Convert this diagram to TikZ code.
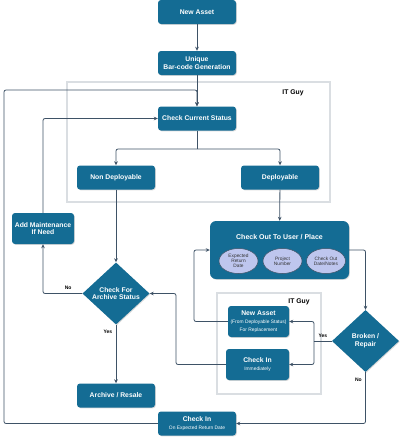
\documentclass[tikz,border=0pt]{standalone}
\usepackage{fontspec}
\setmainfont{Liberation Sans}
\usetikzlibrary{shapes.geometric,arrows.meta,shadows}
\definecolor{flowblue}{RGB}{20,108,148}
\definecolor{flowline}{RGB}{62,82,102}
\definecolor{flowoval}{RGB}{190,198,238}
\definecolor{flowframe}{RGB}{218,222,226}
\newcommand{\flownote}{\mdseries\fontsize{4.9}{5.6}\selectfont}

\tikzset{
  box/.style={fill=flowblue,rounded corners=3pt,text=white,align=center,
    font=\bfseries\fontsize{6.8}{7.8}\selectfont,minimum width=78pt,minimum height=24pt,inner sep=1pt,
    drop shadow={opacity=.3,shadow xshift=.8pt,shadow yshift=-.8pt}},
  boxtext/.style={text=white,font=\bfseries\fontsize{7}{8}\selectfont},
  decision/.style={diamond,fill=flowblue,text=white,align=center,
    font=\bfseries\fontsize{6.8}{7.8}\selectfont,minimum width=67pt,minimum height=62pt,inner sep=0pt,
    drop shadow={opacity=.3,shadow xshift=.8pt,shadow yshift=-.8pt}},
  oval/.style={ellipse,fill=flowoval,draw=flowline,line width=.5pt,text=black!80,align=center,
    font=\fontsize{4.8}{5.2}\selectfont,minimum width=39pt,minimum height=25pt,inner sep=0pt},
  frame/.style={draw=flowframe,line width=2pt},
  guy/.style={font=\bfseries\fontsize{6.8}{7.5}\selectfont},
  flow/.style={draw=flowline,line width=.8pt,rounded corners=2pt,-{Stealth[length=4pt,width=3.6pt]}},
  line/.style={draw=flowline,line width=.8pt,rounded corners=2pt},
  tag/.style={font=\bfseries\fontsize{5}{5.5}\selectfont,text=black}
}

\begin{document}
\begin{tikzpicture}[x=1pt,y=-1pt]
\useasboundingbox (0,0) rectangle (400,437);

% IT Guy frames
\draw[frame] (67,82) rectangle (330,202);
\node[guy] (guyup) at (293,93) {IT Guy};
\draw[frame] (217,293) rectangle (321,394);
\node[guy] (guydown) at (299,302) {IT Guy};

% steps
\node[box] (newasset) at (197,12) {New Asset};
\node[box] (barcode) at (197,63) {Unique\\Bar-code Generation};
\node[box] (status) at (197,118.5) {Check Current Status};
\node[box] (nondep) at (116,177.5) {Non Deployable};
\node[box] (dep) at (280,177.5) {Deployable};
\node[box,minimum width=62pt,minimum height=31pt] (maint) at (43,228.5) {Add Maintenance\\If Need};
\node[decision] (archive) at (116,293.5) {Check For\\Archive Status};
\node[box] (resale) at (116,395.5) {Archive / Resale};

\node[box,minimum width=139pt,minimum height=58pt,rounded corners=6pt] (checkout) at (279.5,250) {};
\node[boxtext] (cotitle) at (279.5,237) {Check Out To User / Place};
\node[oval] (retdate) at (238.5,261) {Expected\\Return\\Date};
\node[oval] (projno) at (282.5,261) {Project\\Number};
\node[oval] (conotes) at (326,261) {Check Out\\Date/Notes};

\node[box,minimum width=61pt,minimum height=31pt] (replace) at (258.5,321.5)
  {New Asset\\{\flownote (From Deployable Status)}\\{\flownote For Replacement}};
\node[box,minimum width=63pt,minimum height=31pt] (checknow) at (257.5,364.5)
  {Check In\\{\flownote Immediately}};
\node[decision] (broken) at (365.5,341) {Broken /\\Repair};
\node[box] (checkin) at (197,423.5) {Check In\\{\flownote On Expected Return Date}};

% joints
\coordinate (loopcorner) at (4,90);
\coordinate (split) at (197,149);
\coordinate (yesjoin) at (314,341);
\coordinate (repljoin) at (194,321.5);
\coordinate (nowjoin) at (176,364.5);

% connectors
\draw[flow] (newasset) -- (barcode);
\draw[flow] (barcode) -- (status);
\draw[flow] (checkin.west) -| (loopcorner) -| (status.north);
\draw[line] (status.south) -- (split);
\draw[flow] (split) -| (nondep.north);
\draw[flow] (split) -| (dep.north);
\draw[flow] (nondep) -- (archive);
\draw[flow] (archive.west) -| node[tag,pos=.18,above] {No} (maint.south);
\draw[flow] (maint.north) |- (status.west);
\draw[flow] (archive.south) -- node[tag,pos=.12,left] {Yes} (resale.north);
\draw[flow] (dep) -- (checkout);
\draw[flow] (checkout.east) -| (broken.north);
\draw[line] (broken.west) -- node[tag,above] {Yes} (yesjoin);
\draw[flow] (yesjoin) |- (replace.east);
\draw[flow] (yesjoin) |- (checknow.east);
\draw[flow] (broken.south) |- node[tag,pos=.07,left] {No} (checkin.east);
\draw[flow] (replace.west) -- (repljoin) |- (checkout.west);
\draw[flow] (checknow.west) -- (nowjoin) |- (archive.east);
\end{tikzpicture}
\end{document}
